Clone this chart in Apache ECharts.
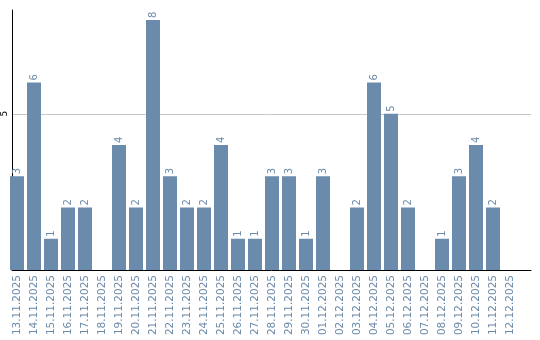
<!DOCTYPE html>
<html>
<head>
<meta charset="utf-8">
<script src="https://cdn.jsdelivr.net/npm/echarts@6/dist/echarts.min.js"></script>
<style>html,body{margin:0;padding:0;background:#fff}#c{width:540px;height:340px}</style>
</head>
<body>
<div id="c"></div>
<script>
const categories = ['13.11.2025','14.11.2025','15.11.2025','16.11.2025','17.11.2025','18.11.2025','19.11.2025','20.11.2025','21.11.2025','22.11.2025','23.11.2025','24.11.2025','25.11.2025','26.11.2025','27.11.2025','28.11.2025','29.11.2025','30.11.2025','01.12.2025','02.12.2025','03.12.2025','04.12.2025','05.12.2025','06.12.2025','07.12.2025','08.12.2025','09.12.2025','10.12.2025','11.12.2025','12.12.2025'];
const values = [3,6,1,2,2,0,4,2,8,3,2,2,4,1,1,3,3,1,3,0,2,6,5,2,0,1,3,4,2,0];
const yTickLabels = [5];
const yMax = 8.32;

const FONT = 'DejaVu Sans';
const chart = echarts.init(document.getElementById('c'), null, {renderer: 'canvas'});
chart.setOption({
  animation: false,
  grid: [
    {left: 8.5, right: 21.5, top: 10, bottom: 70},
    {left: 10, right: 9, top: 10, bottom: 70}
  ],
  xAxis: [
    {
      type: 'category', gridIndex: 0, data: categories,
      axisLine: {show: false}, axisTick: {show: false},
      axisLabel: {interval: 0, rotate: 90, margin: 5, color: '#6b8aa9', fontSize: 10.5, fontFamily: FONT}
    },
    {
      type: 'value', gridIndex: 1, min: 0, max: 1,
      axisLine: {show: true, onZero: false, lineStyle: {color: '#000', width: 1}},
      axisTick: {show: false}, axisLabel: {show: false}, splitLine: {show: false}
    }
  ],
  yAxis: [
    {
      type: 'value', gridIndex: 0, min: 0, max: yMax,
      axisLine: {show: false}, axisTick: {show: false}, axisLabel: {show: false}, splitLine: {show: false}
    },
    {
      type: 'value', gridIndex: 1, min: 0, max: yMax, interval: 5,
      axisLine: {show: true, lineStyle: {color: '#000', width: 1}},
      axisTick: {show: false},
      axisLabel: {
        rotate: 90, margin: 3, color: '#000', fontSize: 9, fontFamily: FONT,
        formatter: v => yTickLabels.includes(v) ? String(v) : ''
      },
      splitLine: {show: true, lineStyle: {color: ['transparent', '#c8c8c8', 'transparent'], width: 1}}
    }
  ],
  series: [{
    type: 'bar', xAxisIndex: 0, yAxisIndex: 0, data: values,
    barWidth: 14,
    itemStyle: {color: '#6a8bab'},
    label: {
      show: true, position: 'top', rotate: 90, align: 'left', verticalAlign: 'middle', distance: 2,
      color: '#6b8aa9', fontSize: 10, fontFamily: FONT,
      formatter: p => p.value ? String(p.value) : ''
    }
  }]
});
</script>
</body>
</html>
